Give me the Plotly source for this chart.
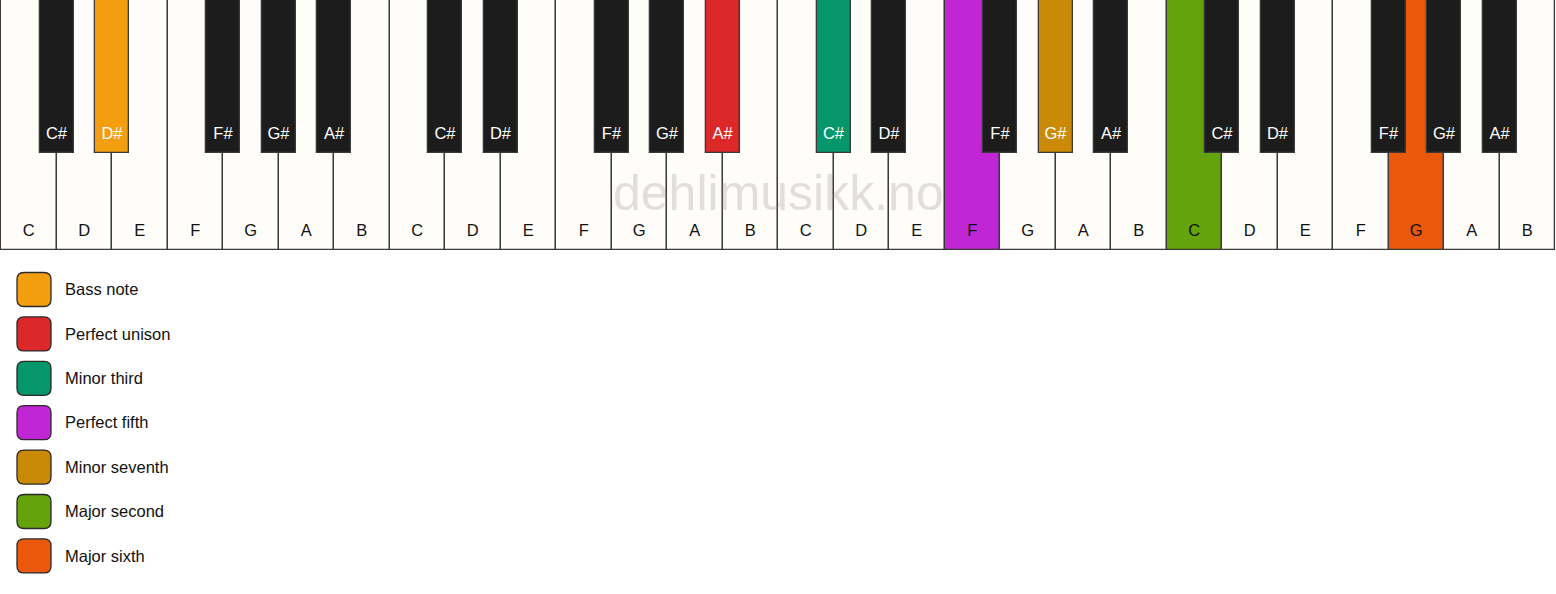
import plotly.graph_objects as go

white_names = ["C", "D", "E", "F", "G", "A", "B"]
black_names = ["C#", "D#", "F#", "G#", "A#"]
black_after = [0, 1, 3, 4, 5]   # white key (within octave) each sharp sits to the right of
octaves = 4

legend_labels = ["Bass note", "Perfect unison", "Minor third", "Perfect fifth",
                 "Minor seventh", "Major second", "Major sixth"]
legend_colors = ["#F39E0F", "#DC2828", "#05966B", "#C026D3",
                 "#CA8A05", "#65A30D", "#EA580C"]
# (octave, note) for each interval, same order as the legend
marked_keys = [(0, "D#"), (1, "A#"), (2, "C#"), (2, "F"), (2, "G#"), (3, "C"), (3, "G")]

W, H = 1556, 594
key_w = (W - 2) / (7 * octaves)
white_h, black_h = 250, 153
black_w = 34 / key_w
ivory, ebony, edge = "#FFFDF9", "#1C1C1C", "#3a3a3a"
font = "Liberation Sans, Arial"

marks = {k: c for k, c in zip(marked_keys, legend_colors)}

wx, wcol, wname = [], [], []
bx, bcol, bname = [], [], []
for o in range(octaves):
    for i, n in enumerate(white_names):
        wx.append(o * 7 + i + 0.5)
        wname.append(n)
        wcol.append(marks.get((o, n), ivory))
    for j, n in enumerate(black_names):
        bx.append(o * 7 + black_after[j] + 1)
        bname.append(n)
        bcol.append(marks.get((o, n), ebony))

fig = go.Figure()
fig.add_trace(go.Bar(
    x=wx, y=[white_h] * len(wx), base=0, width=1,
    marker=dict(color=wcol, line=dict(color=edge, width=1.3)),
    hoverinfo="skip"))
fig.add_trace(go.Bar(
    x=bx, y=[black_h] * len(bx), base=0, width=black_w,
    marker=dict(color=bcol, line=dict(color=edge, width=1.3)),
    hoverinfo="skip"))
fig.add_trace(go.Scatter(
    x=wx, y=[231.5] * len(wx), mode="text", text=wname,
    textfont=dict(family=font, size=16.5, color="#111111"),
    hoverinfo="skip"))
fig.add_trace(go.Scatter(
    x=bx, y=[134.5] * len(bx), mode="text", text=bname,
    textfont=dict(family=font, size=16.5, color="white"),
    hoverinfo="skip"))

# legend drawn on a pixel axis
ly = [289.5 + 44.4 * i for i in range(len(legend_labels))]
fig.add_trace(go.Scatter(
    x=[65] * len(ly), y=[v + 1.5 for v in ly], mode="text", text=legend_labels,
    textposition="middle right", xaxis="x2",
    textfont=dict(family=font, size=16.5, color="#111111"),
    hoverinfo="skip"))

def rounded(x0, y0, x1, y1, r):
    return (f"M {x0+r},{y0} L {x1-r},{y0} Q {x1},{y0} {x1},{y0+r} "
            f"L {x1},{y1-r} Q {x1},{y1} {x1-r},{y1} L {x0+r},{y1} "
            f"Q {x0},{y1} {x0},{y1-r} L {x0},{y0+r} Q {x0},{y0} {x0+r},{y0} Z")

shapes = []
for y, c in zip(ly, legend_colors):
    shapes.append(dict(type="path", xref="x2", yref="y",
                       path=rounded(17, y - 17, 51, y + 17, 7),
                       fillcolor=c, line=dict(color="#2a2a2a", width=1.3)))

fig.add_annotation(x=W / 2, y=193, xref="x2", yref="y", text="dehlimusikk.no",
                   showarrow=False,
                   font=dict(family=font, size=50, color="rgba(140,140,140,0.26)"))

fig.update_layout(
    width=W, height=H,
    margin=dict(l=0, r=0, t=0, b=0),
    paper_bgcolor="white", plot_bgcolor="white",
    barmode="overlay", bargap=0,
    showlegend=False, hovermode=False,
    shapes=shapes,
    xaxis=dict(range=[-1 / key_w, (W - 1) / key_w], visible=False, fixedrange=True),
    xaxis2=dict(range=[0, W], overlaying="x", visible=False, fixedrange=True),
    yaxis=dict(range=[H, 0], visible=False, fixedrange=True),
)

fig.write_html("out.html", config={"displayModeBar": False},
               post_script="document.body.style.margin='0';document.body.style.overflow='hidden';")
